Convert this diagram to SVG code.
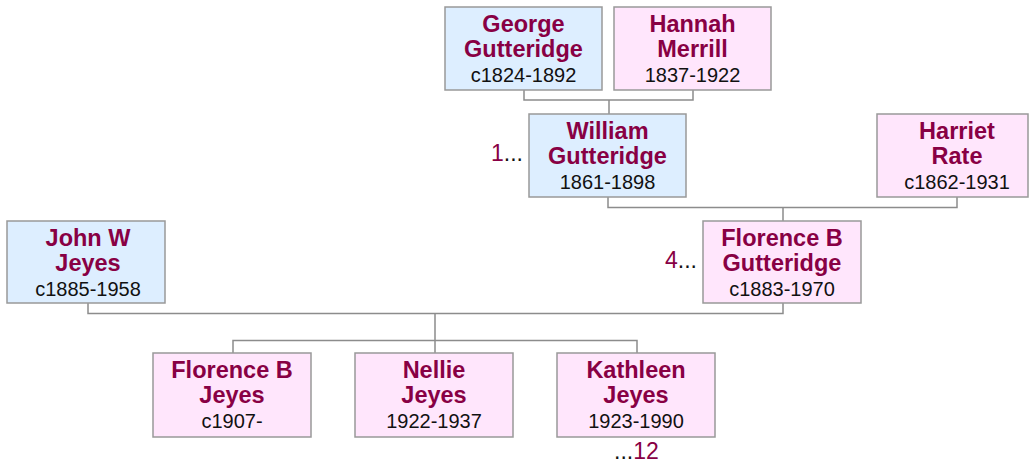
<svg xmlns="http://www.w3.org/2000/svg" width="1029" height="464" viewBox="0 0 1029 464">
<style>
.m{fill:#DDEEFF;stroke:#999;stroke-width:1.5}
.f{fill:#FFE6FC;stroke:#999;stroke-width:1.5}
.n{font-family:"Liberation Sans",Arial,sans-serif;font-weight:bold;font-size:23.5px;fill:#880044;text-anchor:middle}
.d{font-family:"Liberation Sans",Arial,sans-serif;font-size:20px;fill:#111;text-anchor:middle}
.l{font-family:"Liberation Sans",Arial,sans-serif;font-size:23px;fill:#111}
.c{fill:none;stroke:#8c8c8c;stroke-width:1.5}
</style>
<rect width="1029" height="464" fill="#fff"/>
<g id="connectors">
<path class="c" d="M524,90V100H693V90M609,100V114"/>
<path class="c" d="M608,197V207.5H957V197M783,207.5V221"/>
<path class="c" d="M88,303V313.5H783V303M435,313.5V340.5M233,353V340.5H637V353M435,340.5V353"/>
</g>
<g id="george"><rect class="m" x="445" y="7" width="157" height="83"/>
<text class="n" x="523.5" y="32">George</text><text class="n" x="523.5" y="57">Gutteridge</text><text class="d" x="523.5" y="82">c1824-1892</text></g>
<g id="hannah"><rect class="f" x="614" y="7" width="157" height="83"/>
<text class="n" x="692.5" y="32">Hannah</text><text class="n" x="692.5" y="57">Merrill</text><text class="d" x="692.5" y="82">1837-1922</text></g>
<g id="william"><rect class="m" x="529" y="114" width="157" height="83"/>
<text class="n" x="607.5" y="139">William</text><text class="n" x="607.5" y="164">Gutteridge</text><text class="d" x="607.5" y="188.5">1861-1898</text></g>
<g id="label1"><text class="l" x="523" y="161" text-anchor="end"><tspan fill="#880044">1</tspan>...</text></g>
<g id="harriet"><rect class="f" x="877" y="114" width="151" height="83"/>
<text class="n" x="957" y="139">Harriet</text><text class="n" x="957" y="164">Rate</text><text class="d" x="957" y="188.5">c1862-1931</text></g>
<g id="john"><rect class="m" x="7" y="221" width="158" height="82"/>
<text class="n" x="88" y="246">John W</text><text class="n" x="88" y="271">Jeyes</text><text class="d" x="88" y="295.5">c1885-1958</text></g>
<g id="florenceG"><rect class="f" x="703" y="221" width="158" height="82"/>
<text class="n" x="782" y="246">Florence B</text><text class="n" x="782" y="271">Gutteridge</text><text class="d" x="782" y="295.5">c1883-1970</text></g>
<g id="label4"><text class="l" x="697" y="268" text-anchor="end"><tspan fill="#880044">4</tspan>...</text></g>
<g id="florenceJ"><rect class="f" x="153" y="353" width="158" height="84"/>
<text class="n" x="232" y="378">Florence B</text><text class="n" x="232" y="403">Jeyes</text><text class="d" x="232" y="428">c1907-</text></g>
<g id="nellie"><rect class="f" x="355" y="353" width="158" height="84"/>
<text class="n" x="434" y="378">Nellie</text><text class="n" x="434" y="403">Jeyes</text><text class="d" x="434" y="428">1922-1937</text></g>
<g id="kathleen"><rect class="f" x="557" y="353" width="158" height="84"/>
<text class="n" x="636" y="378">Kathleen</text><text class="n" x="636" y="403">Jeyes</text><text class="d" x="636" y="428">1923-1990</text></g>
<g id="label12"><text class="l" x="614" y="459">...<tspan fill="#880044">12</tspan></text></g>
</svg>
